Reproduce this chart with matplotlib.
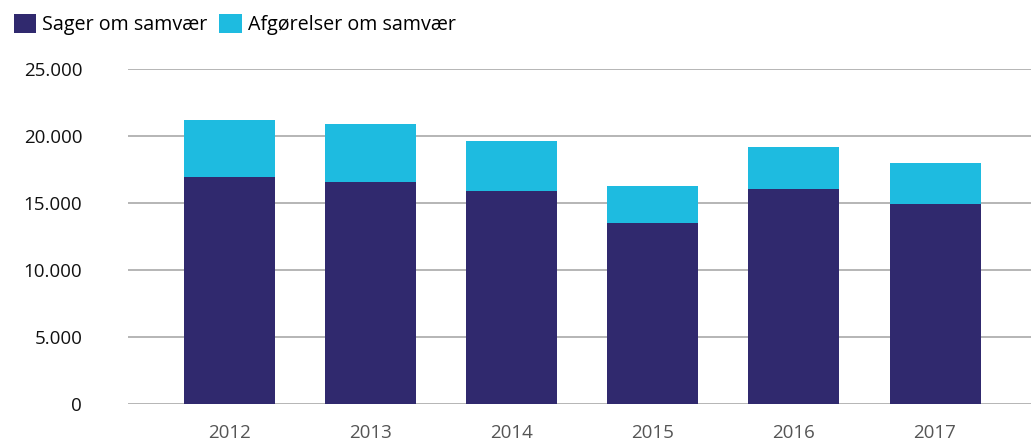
import matplotlib
matplotlib.use("Agg")
import matplotlib.pyplot as plt
from matplotlib.ticker import FuncFormatter
from matplotlib.patches import Patch

years = ["2012", "2013", "2014", "2015", "2016", "2017"]
sager = [16960, 16610, 15920, 13540, 16070, 14960]
afgoerelser = [4240, 4290, 3720, 2750, 3120, 3040]
series_names = ["Sager om samvær", "Afgørelser om samvær"]
yticks = [0, 5000, 10000, 15000, 20000, 25000]

dark = "#30296e"
cyan = "#1ebbe0"

plt.rcParams["font.family"] = ["Open Sans", "DejaVu Sans"]

fig = plt.figure(figsize=(10.31, 4.43), dpi=100)
ax = fig.add_axes([128/1031, 1 - 404.3/443, 1 - 128/1031, (404.3 - 69)/443])

x = list(range(len(years)))
ax.bar(x, sager, width=0.645, color=dark, zorder=3)
ax.bar(x, afgoerelser, bottom=sager, width=0.645, color=cyan, zorder=3)

ax.set_ylim(0, 25000)
ax.set_xlim(-0.72, 5.68)
ax.set_yticks(yticks)
ax.yaxis.set_major_formatter(FuncFormatter(lambda v, p: f"{int(v):,}".replace(",", ".")))
ax.set_xticks(x)
ax.set_xticklabels(years)
ax.grid(axis="y", color="#b5b5b5", linewidth=1.4, zorder=0)
ax.set_axisbelow(True)
for s in ax.spines.values():
    s.set_visible(False)
ax.tick_params(axis="both", length=0)
ax.tick_params(axis="y", pad=33, labelsize=13.5, labelcolor="#111111")
ax.tick_params(axis="x", pad=14, labelsize=13.5, labelcolor="#555555")

handles = [Patch(facecolor=dark), Patch(facecolor=cyan)]
fig.legend(handles, series_names, loc="upper left", bbox_to_anchor=(0.0, 1.0),
           ncol=2, frameon=False, fontsize=14.2, handlelength=1.15, handleheight=1.15,
           handletextpad=0.3, columnspacing=0.6, borderaxespad=0.5, borderpad=0.2)

fig.savefig("out.png", dpi=100)
